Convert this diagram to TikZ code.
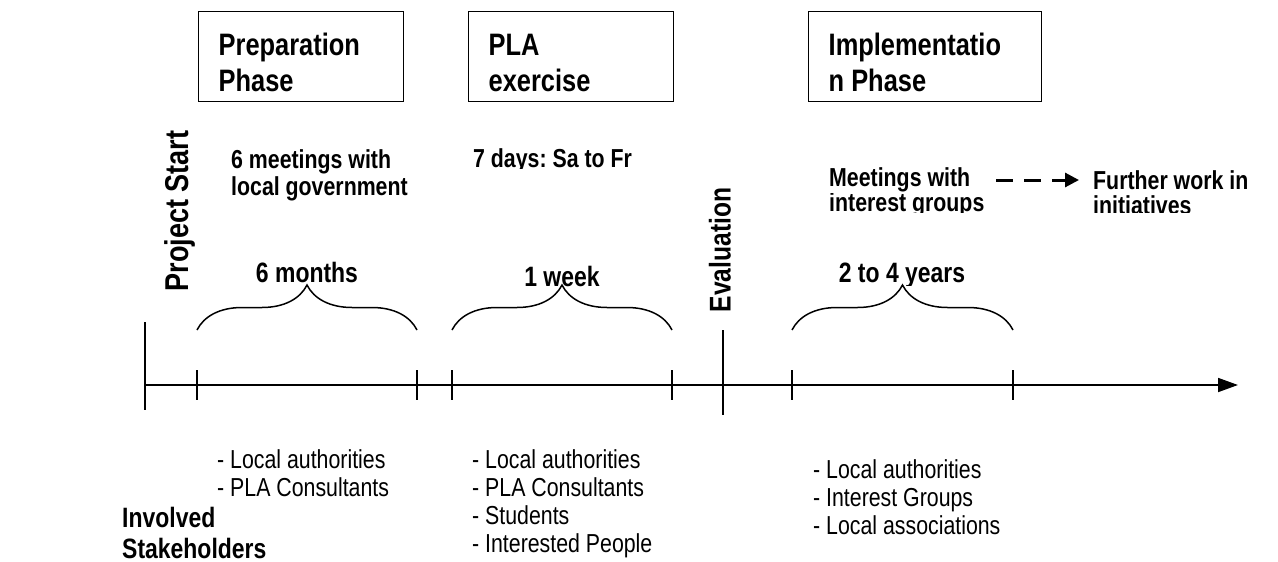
\documentclass[tikz,border=0pt]{standalone}
\usepackage{fontspec}
\setmainfont[FakeStretch=0.82]{Liberation Sans}
\frenchspacing
\usetikzlibrary{arrows.meta,decorations.pathreplacing,positioning}

\begin{document}
\begin{tikzpicture}[x=1pt, y=-1pt,
    phase/.style={draw, line width=1.4pt, anchor=north west, minimum height=90pt,
        inner xsep=20pt, align=flush left, font=\fontsize{31}{36}\selectfont\bfseries,
        execute at begin node={\rule{0pt}{33pt}}},
    milestone/.style={rotate=90, font=\fontsize{33}{33}\selectfont\bfseries},
    note/.style={anchor=west, inner sep=0pt, align=left, font=\fontsize{26}{27}\selectfont\bfseries},
    span/.style={font=\fontsize{28}{28}\selectfont\bfseries},
    people/.style={anchor=north west, inner sep=0pt, align=left, font=\fontsize{26}{28}\selectfont},
    tick/.style={line width=1.8pt},
    period/.style={decorate, decoration={brace, amplitude=45pt}, line width=1.5pt},
    flow/.style={line width=3pt, dash pattern=on 17pt off 11pt, -{Triangle[length=14pt, width=14pt]}}
  ]
    \useasboundingbox (0,0) rectangle (1278,562);

    % First, the three phase boxes
    \node[phase, text width=165pt] (prep) at (198,11) {Preparation\\Phase};
    \node[phase, text width=165pt] (pla) at (468,11) {PLA\\exercise};
    \node[phase, text width=193pt] (impl) at (808,11) {Implementatio\\n Phase};

    % Milestones written upwards
    \node[milestone] (start) at (180,211) {Project Start};
    \node[milestone, font=\fontsize{30}{30}\selectfont\bfseries] (eval) at (720,250) {Evaluation};

    % What happens in each phase (some lines are cut at the bottom)
    \node[note] (prepnote) at (231,175) {6 meetings with\\local government};
    \begin{scope}
        \clip (460,120) rectangle (700,168);
        \node[note] (planote) at (473,161) {7 days: Sa to Fr};
    \end{scope}
    \node[note] (meet) at (829,180) {Meetings with};
    \node[note] (further) at (1093,180) {Further work in};
    \begin{scope}
        \clip (820,193) rectangle (1278,212);
        \node[note] (groups) at (829,205) {interest groups};
        \node[note] (initiatives) at (1093,205) {initiatives};
    \end{scope}

    \draw[flow, shorten <=26pt, shorten >=14pt] (meet) -- (further);

    % Durations
    \node[span] (months) at (307,272) {6 months};
    \node[span] (week) at (562,276) {1 week};
    \begin{scope}
        \clip (820,250) rectangle (1000,285);
        \node[span] (years) at (902,276) {2 to 4 years};
    \end{scope}

    % Time axis with its ticks
    \coordinate (origin) at (145,385);
    \coordinate (future) at (1238,385);
    \draw[line width=1.8pt, -{Triangle[length=20pt, width=14pt]}] (origin) -- (future);
    \draw[tick] (145,322) -- (145,410);
    \draw[tick] (723,330) -- (723,415);
    \foreach \x/\name in {197/a, 417/b, 452/c, 672/d, 792/e, 1013/f} {
        \coordinate (t\name) at (\x,385);
        \draw[tick] (\x,370) -- (\x,400);
    }

    % Braces over each phase
    \draw[period] ([yshift=55pt]ta) -- ([yshift=55pt]tb);
    \draw[period] ([yshift=55pt]tc) -- ([yshift=55pt]td);
    \draw[period] ([yshift=55pt]te) -- ([yshift=55pt]tf);

    % Who takes part
    \node[people] (prepwho) at (217,449) {- Local authorities\\- PLA Consultants};
    \node[people] (plawho) at (472,449) {- Local authorities\\- PLA Consultants\\- Students\\- Interested People};
    \node[people] (implwho) at (813,459) {- Local authorities\\- Interest Groups\\- Local associations};
    \node[anchor=north west, inner sep=0pt, align=left, font=\fontsize{28}{31}\selectfont\bfseries] (who) at (122,507) {Involved\\Stakeholders};
\end{tikzpicture}
\end{document}
